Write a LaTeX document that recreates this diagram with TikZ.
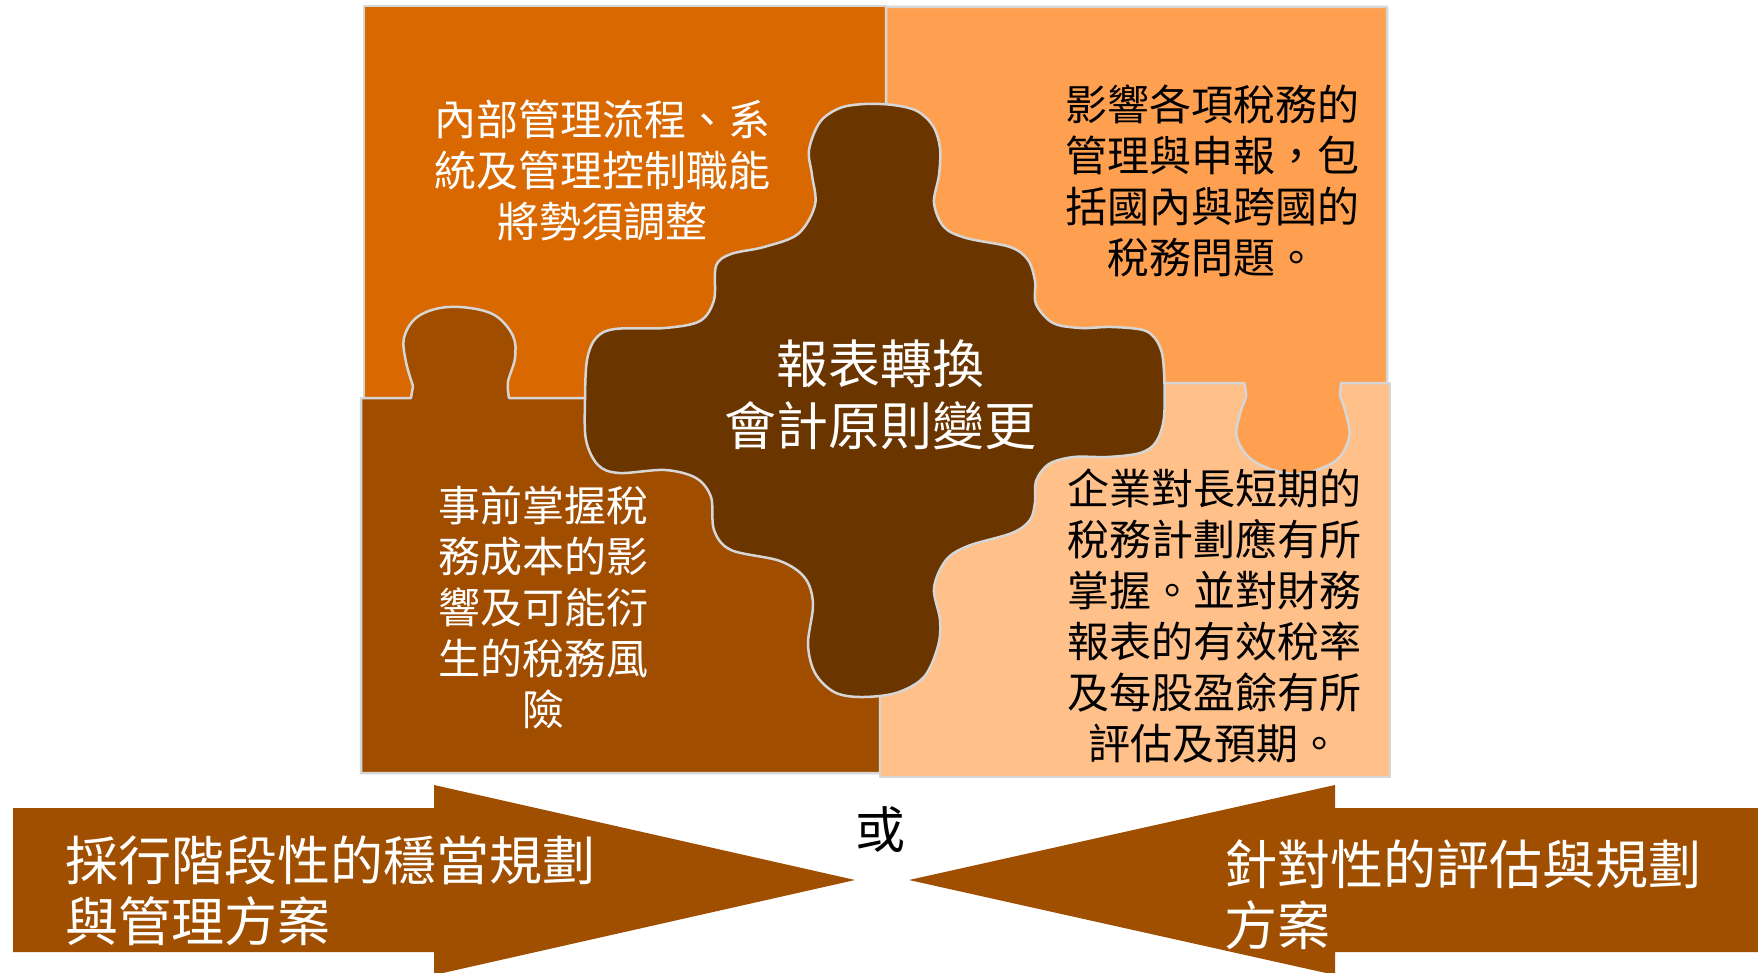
\documentclass[tikz,border=0pt]{standalone}
\usepackage{fontspec}
\newfontfamily\cjk{Noto Sans CJK TC}
\definecolor{ptl}{HTML}{D96800}
\definecolor{ptr}{HTML}{FFA050}
\definecolor{pbr}{HTML}{FFC08A}
\definecolor{pbl}{HTML}{A04D00}
\definecolor{pcen}{HTML}{6B3500}
\definecolor{arr}{HTML}{A04F00}
\definecolor{outl}{HTML}{D6D6D6}
\tikzset{
  piece/.style={draw=outl, line width=2.5pt, line join=round},
  wtext/.style={text=white, inner sep=0pt, align=center, font=\cjk\fontsize{42}{51}\selectfont},
  btext/.style={text=black, inner sep=0pt, align=center, font=\cjk\fontsize{42}{51}\selectfont},
  arrowbox/.style={fill=arr, draw=none},
  arrtext/.style={text=white, inner sep=0pt, align=left, font=\cjk\fontsize{53}{61}\selectfont}
}
\begin{document}
\begin{tikzpicture}[x=1pt,y=-1pt]
\useasboundingbox (0,0) rectangle (1758,973);
\clip (0,0) rectangle (1758,973);
\fill[white] (0,0) rectangle (1758,973);
% top-left piece
\path[piece, fill=ptl] (364,6) -- (886,6) -- (886,400) -- (364,400) -- cycle;
% bottom-left piece with tab
\path[piece, fill=pbl] (361,398) -- (411,398) -- plot[smooth, tension=0.6] coordinates {(413,386) (406,362) (404,338) (416,318) (440,308) (470,308) (496,316) (513,336) (515,358) (508,382) (509,398)} -- (880,398) -- (880,773) -- (361,773) -- cycle;
% bottom-right piece
\path[piece, fill=pbr] (880,383) -- (1390,383) -- (1390,777) -- (880,777) -- cycle;
% top-right piece with tab
\path[piece, fill=ptr] (886,7) -- (1387,7) -- (1387,383) -- (1341,383) -- plot[smooth, tension=0.6] coordinates {(1340,396) (1346,414) (1349,438) (1334,462) (1295,474) (1255,462) (1237,438) (1240,414) (1246,396) (1244,383)} -- (886,383) -- cycle;
% center piece
\path[piece, fill=pcen] plot[smooth cycle, tension=0.55] coordinates {
(865,104) (893,105) (917,111) (933,126) (940,148) (939,175) (934,203) (944,227) (966,238) (1010,247) (1028,260) (1035,281) (1036,304) (1053,323) (1081,328) (1112,327) (1146,331) (1160,347) (1164,372) (1164,417) (1156,442) (1140,453) (1108,457) (1074,457) (1049,464) (1036,481) (1035,502) (1030,520) (1012,533) (968,546) (946,560) (934,588) (940,620) (938,646) (924,677) (896,693) (860,697) (834,692) (815,673) (808,644) (813,604) (805,578) (780,561) (731,550) (714,530) (711,497) (696,478) (665,470) (619,473) (598,465) (586,440) (585,400) (587,360) (596,338) (615,329) (665,328) (700,321) (714,300) (716,266) (731,254) (764,247) (798,234) (815,205) (812,175) (809,150) (820,122) (840,108)};
% texts
\node[wtext] (tl) at (602,170) {內部管理流程、系\\統及管理控制職能\\將勢須調整};
\node[btext] (tr) at (1212,181) {影響各項稅務的\\管理與申報，包\\括國內與跨國的\\稅務問題。};
\node[wtext] (bl) at (543,607) {事前掌握稅\\務成本的影\\響及可能衍\\生的稅務風\\險};
\node[btext] (br) at (1214,616) {企業對長短期的\\稅務計劃應有所\\掌握。並對財務\\報表的有效稅率\\及每股盈餘有所\\評估及預期。};
\node[text=white, inner sep=0pt, align=center, font=\cjk\fontsize{52}{62}\selectfont] (cen) at (880,395) {報表轉換\\會計原則變更};
% arrows
\path[arrowbox] (13,808) -- (434,808) -- (434,785) -- (855,880) -- (434,975) -- (434,952) -- (13,952) -- cycle;
\path[arrowbox] (1770,808) -- (1335,808) -- (1335,785) -- (909,880) -- (1335,975) -- (1335,952) -- (1770,952) -- cycle;
\node[arrtext, anchor=west] (la) at (65,891) {採行階段性的穩當規劃\\與管理方案};
\node[arrtext, anchor=west] (ra) at (1224,895) {針對性的評估與規劃\\方案};
\node[text=black, inner sep=0pt, font=\cjk\fontsize{50}{56}\selectfont] (or) at (880,830) {或};
\end{tikzpicture}
\end{document}
